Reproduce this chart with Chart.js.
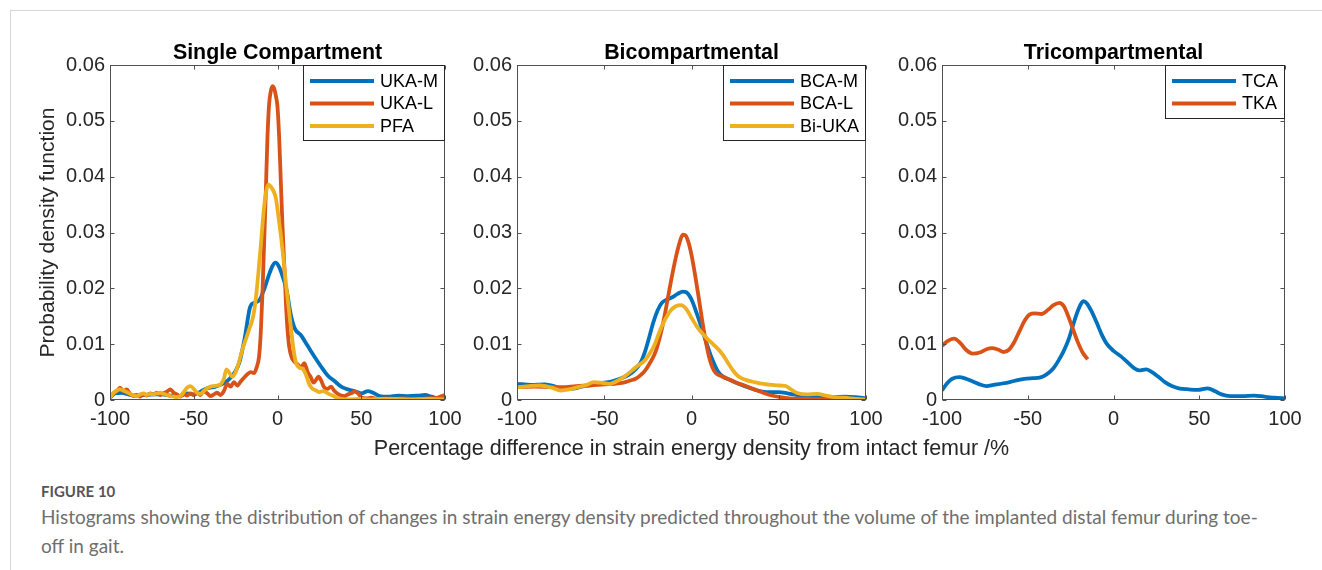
<!DOCTYPE html>
<html>
<head>
<meta charset="utf-8">
<script src="https://cdn.jsdelivr.net/npm/chart.js@4.4.1/dist/chart.umd.min.js"></script>
<style>
  html, body { margin: 0; padding: 0; background: #fff; width: 1322px; height: 570px; overflow: hidden; }
  .frame { position: absolute; left: 10px; top: 10px; width: 1330px; height: 600px;
           border-top: 1px solid #d6d6d6; border-left: 1px solid #d6d6d6; }
  .panel { position: absolute; top: 30px; }
  .fig-label { position: absolute; left: 41px; top: 482px; font: bold 15px Lato, sans-serif; color: #555; }
  .fig-caption { position: absolute; left: 41px; top: 502px; font: 19px/29px Lato, sans-serif; color: #6e6e6e; }
</style>
</head>
<body>
<div class="frame"></div>
<div class="panel" style="left:0px"><canvas id="single" width="470" height="440"></canvas></div>
<div class="panel" style="left:355px"><canvas id="bicomp" width="665" height="440"></canvas></div>
<div class="panel" style="left:885px"><canvas id="tricomp" width="437" height="440"></canvas></div>
<div class="fig-label">FIGURE 10</div>
<div class="fig-caption">Histograms showing the distribution of changes in strain energy density predicted throughout the volume of the implanted distal femur during toe-<br>off in gait.</div>

<script>
// ---- axes ----
const xTicks = [-100, -50, 0, 50, 100];
const yTicks = [0, 0.01, 0.02, 0.03, 0.04, 0.05, 0.06];
const seriesColors = ['#0072BD', '#D95319', '#EDB120'];
const xLabel = 'Percentage difference in strain energy density from intact femur /%';
const yLabel = 'Probability density function';

// ---- single compartment: [% difference, pdf] ----
const ukaM = [[-100,0.0004],[-97,0.0012],[-93,0.0013],[-89,0.0010],[-84,0.0008],[-79,0.0009],[-74,0.0010],[-69,0.0010],[-64,0.0008],[-59,0.0007],[-54,0.0012],[-50,0.0010],[-46,0.0015],[-42,0.0021],[-37,0.0024],[-32,0.0030],[-28,0.0040],[-25,0.0052],[-22.5,0.0070],[-19.5,0.0112],[-16.5,0.0165],[-14,0.0174],[-11,0.0178],[-8,0.0198],[-5,0.0225],[-3,0.0240],[-1.2,0.0246],[1,0.0238],[3,0.0222],[5.5,0.0196],[8,0.0152],[10.5,0.0127],[14,0.0116],[18,0.0097],[22,0.0078],[26,0.0060],[30,0.0044],[34,0.0034],[38,0.0024],[42,0.0019],[46,0.0016],[50,0.0012],[54,0.0016],[57,0.0013],[61,0.0007],[66,0.0006],[72,0.0008],[78,0.0007],[84,0.0008],[88,0.0009],[92,0.0006],[96,0.0003],[100,0.0002]];
const ukaL = [[-100,0.0003],[-98,0.0012],[-96,0.0015],[-94,0.0022],[-92,0.0016],[-90,0.0019],[-88,0.0011],[-86,0.0007],[-84,0.0009],[-82,0.0006],[-80,0.0011],[-78,0.0008],[-76,0.0012],[-74,0.0010],[-72,0.0013],[-70,0.0009],[-68,0.0012],[-66,0.0015],[-64,0.0019],[-62,0.0013],[-60,0.0010],[-58,0.0006],[-56,0.0011],[-54,0.0008],[-52,0.0012],[-50,0.0009],[-48,0.0013],[-46,0.0009],[-44,0.0016],[-42,0.0012],[-40,0.0007],[-38,0.0010],[-36,0.0013],[-34,0.0009],[-32,0.0016],[-30,0.0029],[-28,0.0024],[-26,0.0032],[-24,0.0026],[-22,0.0033],[-20,0.0040],[-18,0.0046],[-16,0.0050],[-14,0.0048],[-12.5,0.0058],[-11,0.0078],[-10,0.0120],[-9,0.0190],[-8,0.0280],[-7,0.0370],[-6,0.0470],[-5,0.0530],[-4,0.0553],[-3,0.0562],[-2,0.0558],[-1,0.0545],[0,0.0525],[1,0.0470],[2,0.0390],[3,0.0310],[4,0.0245],[5,0.0175],[6,0.0125],[7,0.0095],[8.5,0.0076],[10,0.0069],[12,0.0064],[14,0.0058],[16,0.0066],[18,0.0050],[20,0.0040],[21.5,0.0031],[23,0.0036],[24.5,0.0042],[26,0.0035],[28,0.0022],[30,0.0020],[32,0.0024],[34,0.0016],[36,0.0011],[38,0.0008],[40,0.0007],[42,0.0010],[44,0.0012],[46,0.0015],[48,0.0012],[50,0.0005],[53,0.0003],[56,0.0004],[60,0.0002],[65,0.0003],[70,0.0002],[75,0.0003],[80,0.0002],[85,0.0002],[90,0.0003],[95,0.0004],[98,0.0007],[100,0.0009]];
const pfa = [[-100,0.0004],[-98,0.0012],[-96,0.0017],[-94,0.0019],[-92,0.0017],[-90,0.0014],[-88,0.0011],[-86,0.0008],[-84,0.0007],[-82,0.0010],[-80,0.0012],[-78,0.0009],[-76,0.0011],[-74,0.0010],[-72,0.0012],[-70,0.0013],[-68,0.0011],[-66,0.0009],[-64,0.0007],[-62,0.0006],[-60,0.0005],[-58,0.0007],[-56,0.0014],[-54,0.0022],[-52,0.0025],[-50,0.0020],[-48,0.0013],[-46,0.0011],[-44,0.0016],[-42,0.0021],[-40,0.0024],[-38,0.0025],[-36,0.0026],[-34,0.0028],[-32,0.0038],[-30.5,0.0055],[-29,0.0050],[-27,0.0042],[-25,0.0050],[-23,0.0068],[-21,0.0090],[-19,0.0108],[-17,0.0126],[-14.5,0.0150],[-13,0.0180],[-11.5,0.0225],[-10,0.0275],[-8.5,0.0330],[-7,0.0370],[-5.5,0.0386],[-4,0.0382],[-2.5,0.0375],[-1,0.0362],[0.5,0.0330],[2,0.0295],[3.5,0.0255],[5,0.0210],[6.5,0.0170],[8,0.0130],[9.5,0.0092],[11,0.0067],[13,0.0058],[15,0.0056],[17,0.0045],[19,0.0028],[21,0.0020],[23,0.0017],[25,0.0014],[27,0.0016],[29,0.0014],[31,0.0010],[33,0.0008],[35,0.0004],[38,0.0002],[42,0.0001],[50,0.0002],[55,0.0001],[60,0.0002],[70,0.0002],[80,0.0001],[90,0.0002],[100,0.0001]];

// ---- bicompartmental ----
const bcaM = [[-100,0.0029],[-92,0.0027],[-84,0.0028],[-78,0.0024],[-74,0.0020],[-69,0.0020],[-64,0.0023],[-58,0.0027],[-52,0.0030],[-46,0.0033],[-41,0.0038],[-36,0.0045],[-32,0.0055],[-29,0.0068],[-26.5,0.0088],[-24,0.0115],[-22,0.0138],[-19.5,0.0160],[-17,0.0174],[-14,0.0180],[-11,0.0184],[-8,0.0190],[-5,0.0194],[-3,0.0193],[0,0.0180],[3,0.0155],[6,0.0127],[9,0.0098],[12,0.0072],[15,0.0052],[18,0.0042],[22,0.0036],[27,0.0029],[33,0.0022],[38,0.0017],[44,0.0014],[50,0.0014],[55,0.0012],[60,0.0009],[65,0.0006],[70,0.0005],[80,0.0005],[88,0.0006],[94,0.0005],[100,0.0003]];
const bcaL = [[-100,0.0023],[-90,0.0024],[-80,0.0023],[-74,0.0023],[-66,0.0025],[-58,0.0026],[-50,0.0028],[-44,0.0029],[-39,0.0031],[-35,0.0035],[-32,0.0038],[-29,0.0045],[-26.5,0.0053],[-23.5,0.0068],[-20.5,0.0087],[-17,0.0127],[-15,0.0158],[-13,0.0192],[-11,0.0225],[-9,0.0255],[-7,0.0280],[-5,0.0296],[-3.5,0.0295],[-2,0.0285],[0,0.0260],[2,0.0225],[4,0.0186],[6,0.0145],[8,0.0108],[10,0.0078],[12,0.0058],[14,0.0048],[17,0.0043],[20,0.0039],[25,0.0032],[31,0.0025],[36,0.0019],[41,0.0013],[46,0.0008],[51,0.0005],[56,0.0003],[65,0.0002],[75,0.0001],[85,0.0000],[92,0.0001],[100,0.0001]];
const biUka = [[-100,0.0023],[-93,0.0025],[-87,0.0026],[-80,0.0022],[-75,0.0017],[-70,0.0019],[-65,0.0023],[-60,0.0027],[-56,0.0032],[-52,0.0031],[-47,0.0029],[-42,0.0035],[-38,0.0043],[-34,0.0053],[-31,0.0061],[-27,0.0070],[-24,0.0083],[-21,0.0100],[-18,0.0125],[-15,0.0145],[-12,0.0160],[-9,0.0168],[-6,0.0170],[-3,0.0163],[0,0.0147],[3,0.0132],[6,0.0120],[9,0.0110],[12,0.0101],[15,0.0092],[18,0.0081],[21,0.0066],[24,0.0052],[27,0.0042],[31,0.0036],[36,0.0032],[41,0.0029],[46,0.0027],[51,0.0026],[54,0.0025],[57,0.0019],[61,0.0012],[66,0.0010],[72,0.0011],[77,0.0008],[82,0.0005],[88,0.0004],[94,0.0002],[100,0.0001]];

// ---- tricompartmental ----
const tca = [[-100,0.0017],[-97,0.0030],[-94,0.0038],[-90,0.0041],[-86,0.0038],[-82,0.0033],[-78,0.0028],[-74,0.0025],[-70,0.0027],[-64,0.0030],[-58,0.0034],[-52,0.0038],[-47,0.0039],[-43,0.0040],[-39,0.0046],[-35,0.0057],[-32,0.0071],[-29,0.0088],[-26,0.0110],[-23.5,0.0135],[-21,0.0158],[-19,0.0172],[-17.5,0.0177],[-15.5,0.0173],[-13,0.0160],[-10,0.0140],[-7,0.0118],[-4,0.0101],[0,0.0088],[4,0.0079],[8,0.0068],[12,0.0057],[15,0.0053],[19,0.0055],[22,0.0051],[26,0.0042],[30,0.0032],[34,0.0025],[38,0.0021],[44,0.0019],[49,0.0018],[55,0.0021],[59,0.0016],[63,0.0010],[68,0.0007],[75,0.0007],[82,0.0008],[88,0.0006],[94,0.0004],[100,0.0003]];
const tka = [[-100,0.0097],[-97,0.0105],[-93,0.0110],[-89,0.0101],[-86,0.0090],[-82,0.0083],[-78,0.0085],[-74,0.0091],[-71,0.0093],[-67,0.0090],[-64,0.0086],[-61,0.0090],[-58,0.0103],[-55,0.0122],[-52,0.0141],[-49,0.0153],[-46,0.0155],[-42,0.0154],[-38,0.0162],[-35,0.0170],[-31.5,0.0174],[-29,0.0168],[-27,0.0155],[-24,0.0130],[-21,0.0105],[-18,0.0085],[-15,0.0073]];

const FONT = '"Liberation Sans", Arial, Helvetica, sans-serif';
const INK = '#262626';
Chart.defaults.font.family = FONT;
Chart.defaults.color = INK;

// box round the plot with short inward ticks on all four sides
const axesBox = {
  id: 'axesBox',
  afterDatasetsDraw(chart) {
    const { ctx, chartArea: a, scales: { x, y } } = chart;
    const L = Math.round(a.left) + 0.5, R = Math.round(a.right) - 0.5;
    const T = Math.round(a.top) + 0.5, B = Math.round(a.bottom) - 0.5;
    ctx.save();
    ctx.strokeStyle = '#505050';
    ctx.lineWidth = 1;
    ctx.beginPath();
    x.ticks.forEach((t) => {
      const px = Math.round(x.getPixelForValue(t.value)) + 0.5;
      ctx.moveTo(px, B); ctx.lineTo(px, B - 4);
      ctx.moveTo(px, T); ctx.lineTo(px, T + 4);
    });
    y.ticks.forEach((t) => {
      const py = Math.round(y.getPixelForValue(t.value)) + 0.5;
      ctx.moveTo(L, py); ctx.lineTo(L + 4, py);
      ctx.moveTo(R, py); ctx.lineTo(R - 4, py);
    });
    ctx.stroke();
    ctx.strokeRect(L, T, R - L, B - T);
    ctx.restore();
  },
};

// legend in a framed box at the top right corner of the plot
const boxLegend = {
  id: 'boxLegend',
  afterDraw(chart) {
    const { ctx, chartArea: a } = chart;
    const sets = chart.data.datasets;
    const rowH = 22.5, lineLen = 64;
    ctx.save();
    ctx.font = '18px ' + FONT;
    const textW = Math.max(...sets.map((d) => ctx.measureText(d.label).width));
    const w = Math.round(7 + lineLen + 6 + textW + 7);
    const h = Math.round(sets.length * rowH + 7.5);
    const left = Math.round(a.right) - w, top = Math.round(a.top);
    ctx.fillStyle = '#fff';
    ctx.fillRect(left, top, w, h);
    ctx.strokeStyle = '#262626';
    ctx.lineWidth = 1;
    ctx.strokeRect(left + 0.5, top + 0.5, w - 1, h);
    sets.forEach((d, i) => {
      const cy = top + 16 + i * rowH;
      ctx.strokeStyle = d.borderColor;
      ctx.lineWidth = 4;
      ctx.beginPath();
      ctx.moveTo(left + 7, cy);
      ctx.lineTo(left + 7 + lineLen, cy);
      ctx.stroke();
      ctx.fillStyle = '#000';
      ctx.textBaseline = 'middle';
      ctx.fillText(d.label, left + 7 + lineLen + 6, cy + 1);
    });
    ctx.restore();
  },
};

// bold heading over the plot, plus the shared x label under the middle panel
const panelText = {
  id: 'panelText',
  afterDraw(chart, args, opts) {
    const { ctx, chartArea: a } = chart;
    const cx = (a.left + a.right) / 2;
    ctx.save();
    ctx.textAlign = 'center';
    ctx.font = 'bold 21.4px ' + FONT;
    ctx.fillStyle = '#000';
    ctx.textBaseline = 'alphabetic';
    ctx.fillText(opts.title, cx, a.top - 6);
    if (opts.xLabel) {
      ctx.font = '21.5px ' + FONT;
      ctx.fillStyle = INK;
      ctx.textBaseline = 'middle';
      ctx.fillText(opts.xLabel, cx, a.bottom + 49);
    }
    ctx.restore();
  },
};

function makePanel(id, title, series, padLeft, yWidth, padRight, extra = {}) {
  const datasets = series.map((s, i) => ({
    label: s.label,
    data: s.points.map(([x, y]) => ({ x, y })),
    borderColor: seriesColors[i],
    backgroundColor: seriesColors[i],
    borderWidth: 3.8,
    borderJoinStyle: 'round',
    pointRadius: 0,
    cubicInterpolationMode: 'monotone',
    order: -i, // later series drawn on top
  }));

  return new Chart(document.getElementById(id), {
    type: 'line',
    data: { datasets },
    plugins: [axesBox, boxLegend, panelText],
    options: {
      responsive: false,
      animation: false,
      devicePixelRatio: 1,
      layout: { padding: { top: 35, right: padRight, bottom: 0, left: padLeft } },
      plugins: {
        legend: { display: false },
        tooltip: { enabled: false },
        panelText: { title, xLabel: extra.xLabel },
      },
      scales: {
        x: {
          type: 'linear',
          min: -100,
          max: 100,
          afterBuildTicks: (s) => { s.ticks = xTicks.map((v) => ({ value: v })); },
          afterFit: (s) => { s.height = 70; },
          grid: { display: false, drawTicks: false },
          border: { display: false },
          ticks: { padding: 7, color: INK, font: { size: 20 }, maxRotation: 0, autoSkip: false },
        },
        y: {
          type: 'linear',
          min: 0,
          max: 0.06,
          afterBuildTicks: (s) => { s.ticks = yTicks.map((v) => ({ value: v })); },
          afterFit: (s) => { s.width = yWidth; },
          grid: { display: false, drawTicks: false },
          border: { display: false },
          ticks: {
            padding: 5,
            color: INK,
            font: { size: 20 },
            callback: (v) => (v === 0 ? '0' : v.toFixed(2)),
          },
          title: extra.yLabel
            ? { display: true, text: extra.yLabel, color: INK, font: { size: 21 }, padding: { top: 35.4, bottom: 0 } }
            : { display: false },
        },
      },
    },
  });
}

makePanel('single', 'Single Compartment', [
  { label: 'UKA-M', points: ukaM },
  { label: 'UKA-L', points: ukaL },
  { label: 'PFA', points: pfa },
], 0, 110, 25, { yLabel });

makePanel('bicomp', 'Bicompartmental', [
  { label: 'BCA-M', points: bcaM },
  { label: 'BCA-L', points: bcaL },
  { label: 'Bi-UKA', points: biUka },
], 110, 52, 154, { xLabel });

makePanel('tricomp', 'Tricompartmental', [
  { label: 'TCA', points: tca },
  { label: 'TKA', points: tka },
], 0, 57, 37);
</script>
</body>
</html>
